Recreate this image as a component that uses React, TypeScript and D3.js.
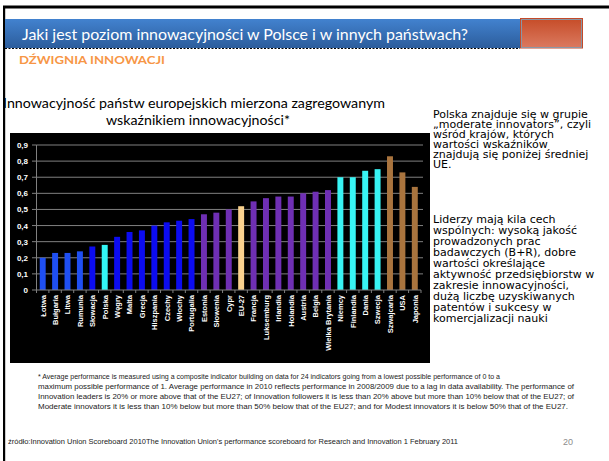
import React from "react";
import * as d3 from "d3";

const countries = ["Łotwa","Bułgaria","Litwa","Rumunia","Słowacja","Polska","Węgry","Malta","Grecja","Hiszpania","Czechy","Włochy","Portugalia","Estonia","Słowenia","Cypr","EU-27","Francja","Luksemburg","Irlandia","Holandia","Austria","Belgia","Wielka Brytania","Niemcy","Finlandia","Dania","Szwecja","Szwajcaria","USA","Japonia"];
const values = [0.20,0.23,0.23,0.24,0.27,0.28,0.33,0.36,0.37,0.40,0.42,0.43,0.44,0.47,0.48,0.50,0.52,0.55,0.57,0.58,0.58,0.60,0.61,0.62,0.70,0.70,0.74,0.75,0.83,0.73,0.64];
const groups = ["modest","modest","modest","modest","moderate","poland","moderate","moderate","moderate","moderate","moderate","moderate","moderate","follower","follower","follower","eu","follower","follower","follower","follower","follower","follower","follower","leader","leader","leader","leader","nonEU","nonEU","nonEU"];
const yTicks = [0,0.1,0.2,0.3,0.4,0.5,0.6,0.7,0.8,0.9];
const yTickLabels = ["0","0,1","0,2","0,3","0,4","0,5","0,6","0,7","0,8","0,9"];

const groupColor: Record<string,string> = {
  modest: "#1f4ff2",
  moderate: "#0c0cf0",
  poland: "#33f6f6",
  follower: "#6f2fb4",
  eu: "#fad28e",
  leader: "#38f4f4",
  nonEU: "#a9743e",
};

const headerTitle = "Jaki jest poziom innowacyjności w Polsce i w innych państwach?";
const subTitle = "DŹWIGNIA INNOWACJI";
const chartTitle = ["Innowacyjność państw europejskich mierzona zagregowanym", "wskaźnikiem innowacyjności*"];
const para1 = ["Polska znajduje się w grupie","„moderate innovators”, czyli","wśród krajów, których","wartości wskaźników","znajdują się poniżej średniej","UE."];
const para2 = ["Liderzy mają kila cech","wspólnych: wysoką jakość","prowadzonych prac","badawczych (B+R), dobre","wartości określające","aktywność przedsiębiorstw w","zakresie innowacyjności,","dużą liczbę uzyskiwanych","patentów i sukcesy w","komercjalizacji nauki"];
const footnote = [
  "* Average performance is measured using a composite indicator building on data for 24 indicators going from a  lowest possible performance of 0 to a",
  "maximum possible performance of 1. Average performance in 2010 reflects performance in 2008/2009 due to a lag in data availability. The performance of",
  "Innovation leaders is 20% or more above that of the EU27; of Innovation followers it is less than 20% above but more than 10% below that of the EU27; of",
  "Moderate innovators it is less than 10%  below but more than 50% below that of the EU27; and for Modest innovators it is below 50% that of the EU27.",
];
const footnoteWidths = [462, 536, 536, 530];
const source = "źródło:Innovation Union Scoreboard 2010The Innovation Union's performance scoreboard for Research and Innovation 1 February 2011";
const pageNumber = "20";

export default function App() {
  const W = 609, H = 461;
  const box = { x: 10, y: 133, w: 420, h: 230 };
  const x0 = 36.5, x1 = 421;
  const xScale = d3.scaleBand<string>().domain(countries).range([x0, x1]).paddingInner(0.52).paddingOuter(0.26);
  const yScale = d3.scaleLinear().domain([0, 0.9]).range([290, 145]);
  const step = xScale.step();
  const boundaries = d3.range(countries.length + 1).map((i) => x0 + i * step);

  return (
    <svg width={W} height={H} style={{ position: "absolute", left: 0, top: 0, background: "#fff" }} fontFamily="Liberation Sans, Arial, sans-serif">
      <defs>
        <linearGradient id="blueBar" x1="0" y1="0" x2="0" y2="1">
          <stop offset="0" stopColor="#4282cf" />
          <stop offset="1" stopColor="#2c5d9c" />
        </linearGradient>
        <linearGradient id="orangeBox" x1="0" y1="0" x2="0" y2="1">
          <stop offset="0" stopColor="#c64c28" />
          <stop offset="1" stopColor="#db7a60" />
        </linearGradient>
      </defs>
      <rect x={0} y={0} width={W} height={H} fill="#fff" />
      <rect x={3} y={5.5} width={W - 3} height={3} fill="#000" />
      <rect x={3} y={6} width={2.2} height={H - 6} fill="#000" />
      <rect x={5} y={19} width={515} height={29} fill="url(#blueBar)" />
      <line x1={5} y1={48.5} x2={520} y2={48.5} stroke="#000" strokeWidth={1} strokeDasharray="2,1.5" />
      <rect x={520.5} y={18.5} width={62} height={29.5} fill="url(#orangeBox)" stroke="#c44a2a" strokeWidth={1} />
      <rect x={521.5} y={19.5} width={60} height={28} fill="none" stroke="#8a97a6" strokeWidth={1} />
      <text x={22} y={40} fill="#fff" fontFamily="Lato, sans-serif" fontSize={16} textLength={446} lengthAdjust="spacingAndGlyphs">{headerTitle}</text>
      <text x={19} y={63.5} fill="#f79646" fontFamily="Lato, sans-serif" fontWeight="bold" fontSize={12} textLength={146} lengthAdjust="spacingAndGlyphs">{subTitle}</text>
      <text x={3} y={108} fill="#000" fontFamily="Lato, sans-serif" fontSize={14} textLength={382} lengthAdjust="spacingAndGlyphs">{chartTitle[0]}</text>
      <text x={106} y={125} fill="#000" fontFamily="Lato, sans-serif" fontSize={14} textLength={184} lengthAdjust="spacingAndGlyphs">{chartTitle[1]}</text>
      <rect x={box.x} y={box.y} width={box.w} height={box.h} fill="#000" />
      {yTicks.filter((t) => t > 0).map((t) => (
        <line key={"g" + t} x1={x0} x2={423} y1={yScale(t)} y2={yScale(t)} stroke="#808080" strokeWidth={1} />
      ))}
      {yTicks.map((t, i) => (
        <g key={"yt" + t}>
          <line x1={32} x2={x0} y1={yScale(t)} y2={yScale(t)} stroke="#808080" strokeWidth={1} />
          <text x={28} y={yScale(t) + 3} fill="#fff" fontSize={8} fontWeight="bold" textAnchor="end">{yTickLabels[i]}</text>
        </g>
      ))}
      <line x1={x0} x2={x0} y1={yScale(0.9)} y2={yScale(0)} stroke="#808080" strokeWidth={1} />
      {countries.map((c, i) => (
        <rect key={c} x={xScale(c)} y={yScale(values[i])} width={xScale.bandwidth()} height={yScale(0) - yScale(values[i])} fill={groupColor[groups[i]]} />
      ))}
      <line x1={x0} x2={x1} y1={yScale(0)} y2={yScale(0)} stroke="#808080" strokeWidth={1} />
      {boundaries.map((bx, i) => (
        <line key={"xt" + i} x1={bx} x2={bx} y1={yScale(0)} y2={yScale(0) + 3} stroke="#808080" strokeWidth={1} />
      ))}
      {countries.map((c) => {
        const cx = (xScale(c) as number) + xScale.bandwidth() / 2;
        return (
          <text key={"xl" + c} transform={`translate(${cx + 2.8},295) rotate(-90)`} fill="#fff" fontSize={7.5} fontWeight="bold" textAnchor="end">{c}</text>
        );
      })}
      {para1.map((l, i) => (
        <text key={"p1" + i} x={433} y={118 + i * 10} fontSize={11} fontFamily="DejaVu Sans, sans-serif" fill="#000">{l}</text>
      ))}
      {para2.map((l, i) => (
        <text key={"p2" + i} x={433} y={223 + i * 11} fontSize={11} fontFamily="DejaVu Sans, sans-serif" fill="#000">{l}</text>
      ))}
      {footnote.map((l, i) => (
        <text key={"fn" + i} x={38} y={379 + i * 10} fontSize={6.8} fill="#222" textLength={footnoteWidths[i]} lengthAdjust="spacingAndGlyphs">{l}</text>
      ))}
      <text x={8} y={444} fontSize={6.8} fill="#222" textLength={450} lengthAdjust="spacingAndGlyphs">{source}</text>
      <text x={563} y={445} fontSize={9} fill="#8c8c8c">{pageNumber}</text>
    </svg>
  );
}
